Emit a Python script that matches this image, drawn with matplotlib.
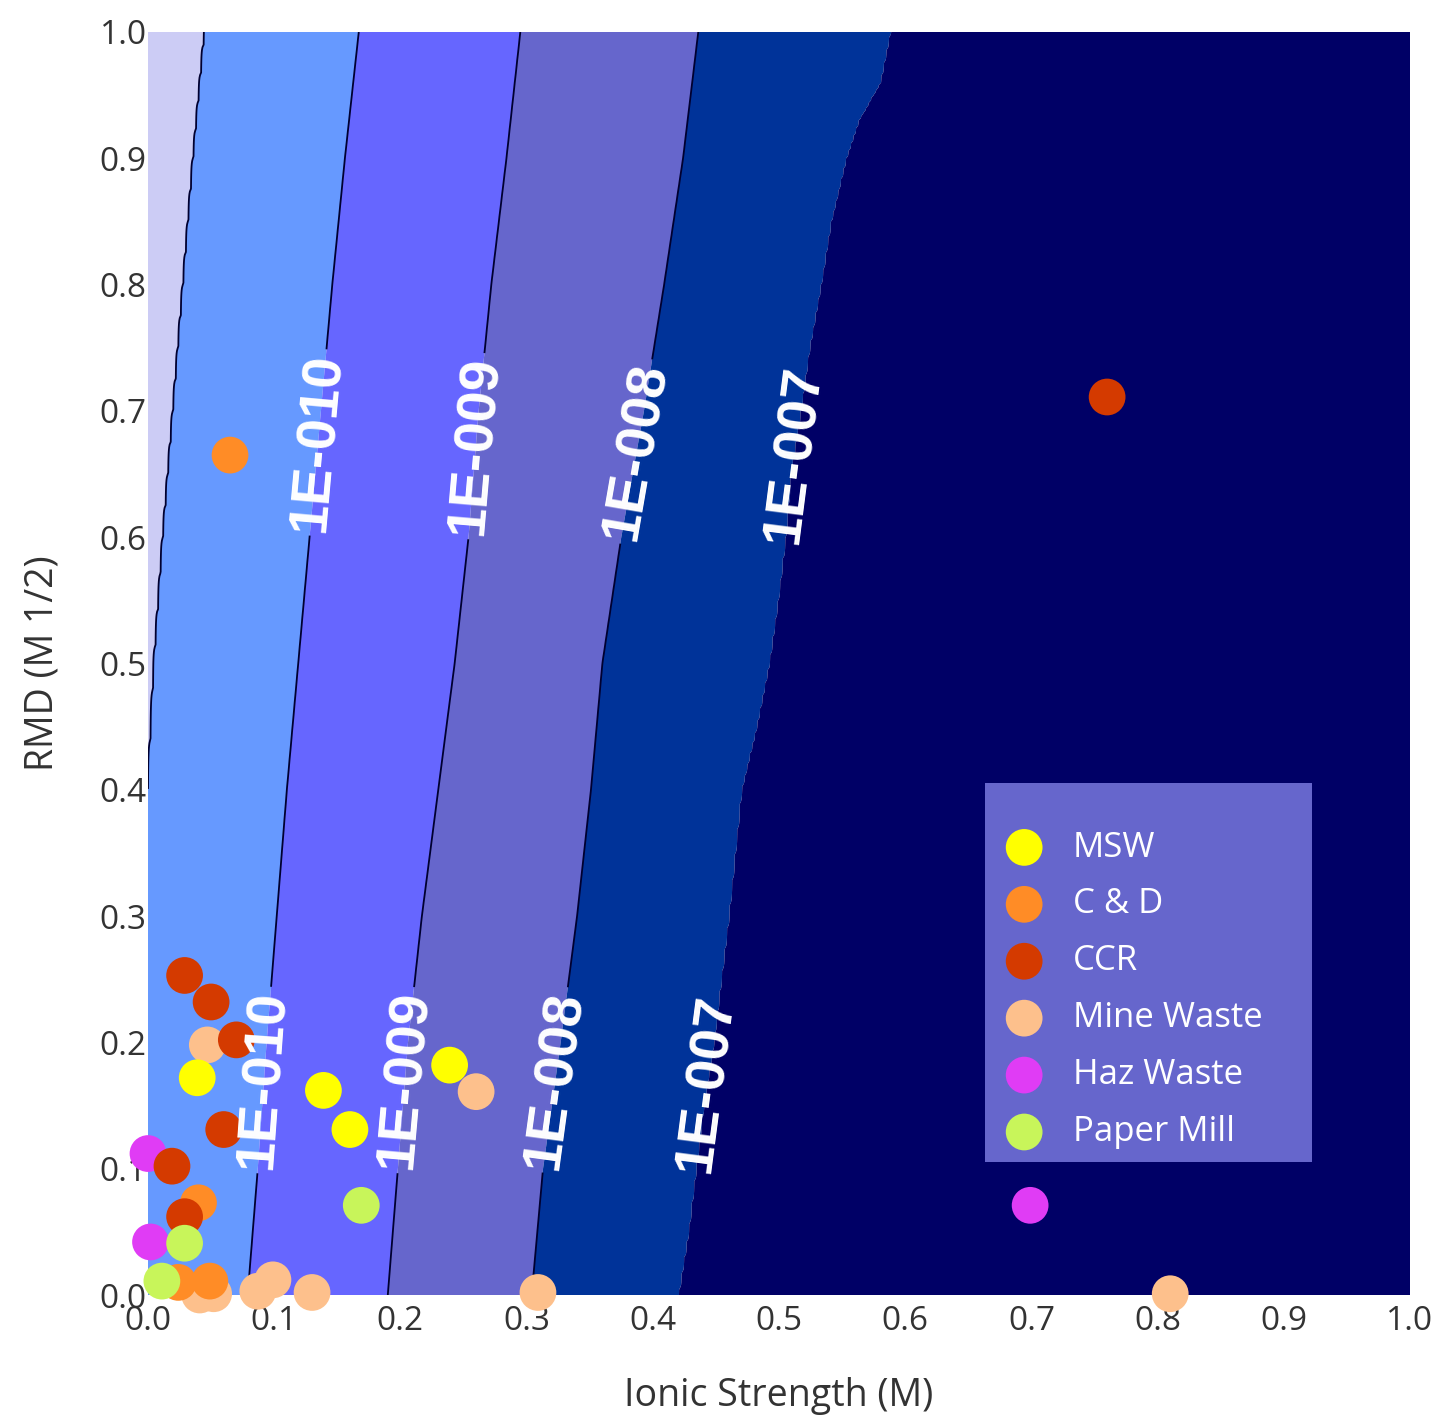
import numpy as np
import matplotlib
matplotlib.use("Agg")
import matplotlib.pyplot as plt
from matplotlib.patches import Rectangle
from matplotlib.font_manager import FontProperties

# ---------------- data ----------------
# contour boundaries (x position of each iso-line at given RMD values)
levels_log = [-11, -10, -9, -8, -7]
b11_y = [0.0, 0.1, 0.2, 0.3, 0.4, 0.5, 0.6, 0.7, 0.8, 0.9, 1.0]
b11_x = [-0.040, -0.030, -0.020, -0.010, 0.000, 0.005, 0.012, 0.020, 0.028, 0.036, 0.045]
b10_y = [0.0, 0.1, 0.2, 0.3, 0.4, 0.5, 0.6, 0.7, 0.8, 0.9, 1.0]
b10_x = [0.079, 0.087, 0.094, 0.102, 0.110, 0.119, 0.128, 0.137, 0.146, 0.156, 0.167]
b09_y = [0.0, 0.1, 0.2, 0.3, 0.4, 0.5, 0.6, 0.7, 0.8, 0.9, 1.0]
b09_x = [0.190, 0.198, 0.206, 0.217, 0.230, 0.243, 0.254, 0.262, 0.272, 0.284, 0.295]
b08_y = [0.0, 0.1, 0.2, 0.3, 0.4, 0.5, 0.6, 0.7, 0.8, 0.9, 1.0]
b08_x = [0.304, 0.313, 0.327, 0.340, 0.351, 0.360, 0.375, 0.393, 0.409, 0.424, 0.436]
b07_y = [0.0, 0.05, 0.1, 0.15, 0.2, 0.25, 0.3, 0.35, 0.4, 0.45, 0.5, 0.55,
         0.6, 0.65, 0.7, 0.75, 0.8, 0.85, 0.9, 0.93, 0.96, 1.0]
b07_x = [0.420, 0.428, 0.434, 0.440, 0.448, 0.454, 0.460, 0.465, 0.470, 0.482,
         0.492, 0.499, 0.505, 0.509, 0.517, 0.524, 0.533, 0.541, 0.553, 0.563,
         0.580, 0.588]

fill_colors = ["#ccccf5", "#6699ff", "#6666ff", "#6666cc", "#003399", "#000066"]

# scatter data (Ionic Strength, RMD)
msw_x = [0.039, 0.139, 0.160, 0.239]
msw_y = [0.172, 0.162, 0.131, 0.182]
cd_x = [0.065, 0.040, 0.024, 0.049]
cd_y = [0.665, 0.073, 0.010, 0.011]
ccr_x = [0.029, 0.050, 0.070, 0.060, 0.019, 0.029, 0.760]
ccr_y = [0.253, 0.232, 0.202, 0.131, 0.102, 0.062, 0.711]
mine_x = [0.047, 0.260, 0.041, 0.052, 0.087, 0.099, 0.130, 0.309, 0.810]
mine_y = [0.198, 0.161, 0.000, 0.001, 0.003, 0.012, 0.002, 0.002, 0.001]
haz_x = [0.000, 0.002, 0.699]
haz_y = [0.112, 0.042, 0.071]
paper_x = [0.029, 0.011, 0.169]
paper_y = [0.041, 0.011, 0.071]

series_names = ["MSW", "C & D", "CCR", "Mine Waste", "Haz Waste", "Paper Mill"]
series_colors = ["#ffff00", "#ff8c26", "#d43a00", "#fdc08c", "#e03cf5", "#c8f55a"]
series_z = [3.4, 3.2, 3.3, 3.0, 3.1, 3.5]

x_ticks = [0.0, 0.1, 0.2, 0.3, 0.4, 0.5, 0.6, 0.7, 0.8, 0.9, 1.0]
y_ticks = [0.0, 0.1, 0.2, 0.3, 0.4, 0.5, 0.6, 0.7, 0.8, 0.9, 1.0]

label_pos = [(0.135, 0.675), (0.095, 0.17), (0.261, 0.672), (0.206, 0.17),
             (0.386, 0.668), (0.325, 0.17), (0.513, 0.665), (0.441, 0.168)]

# ---------------- build the field from the boundaries ----------------
gx = np.linspace(0, 1, 500)
gy = np.linspace(0, 1, 500)
X, Y = np.meshgrid(gx, gy)
bounds = [(b11_y, b11_x), (b10_y, b10_x), (b09_y, b09_x), (b08_y, b08_x), (b07_y, b07_x)]
Z = np.zeros_like(X)
for i, yy in enumerate(gy):
    xs = [-1.0] + [np.interp(yy, by, bx) for by, bx in bounds] + [2.0]
    zs = [levels_log[0] - 1] + levels_log + [levels_log[-1] + 1]
    Z[i, :] = np.interp(gx, xs, zs)

# ---------------- plot ----------------
fig = plt.figure(figsize=(14.41, 14.16), dpi=100)
ax = fig.add_axes([148 / 1441, 1 - 1295 / 1416, 1262 / 1441, 1263 / 1416])

all_levels = [levels_log[0] - 1] + levels_log + [levels_log[-1] + 1]
ax.contourf(X, Y, Z, levels=all_levels, colors=fill_colors, antialiased=True)
ax.contour(X, Y, Z, levels=levels_log[:1], colors="#000030", linewidths=1.3,
           linestyles="solid")
cs = ax.contour(X, Y, Z, levels=levels_log[1:], colors="#000030",
                linewidths=[1.3, 1.3, 1.3, 0.0], linestyles="solid")

def fmt(v):
    return "1E-%03d" % abs(int(round(v)))

with plt.rc_context({"font.weight": "bold", "font.family": ["Liberation Sans", "DejaVu Sans"]}):
    texts = ax.clabel(cs, manual=label_pos, inline=True,
                      inline_spacing=4, fmt=fmt, fontsize=40, colors="white")

xs_all = [msw_x, cd_x, ccr_x, mine_x, haz_x, paper_x]
ys_all = [msw_y, cd_y, ccr_y, mine_y, haz_y, paper_y]
handles = []
for sx, sy, nm, c, z in zip(xs_all, ys_all, series_names, series_colors, series_z):
    h = ax.scatter(sx, sy, s=700, color=c, edgecolors="none", zorder=z,
                   clip_on=False, label=nm)
    handles.append(h)

ax.set_xlim(0, 1)
ax.set_ylim(0, 1)
for sp in ax.spines.values():
    sp.set_visible(False)

tick_font = FontProperties(family="Open Sans", size=24)
ax.set_xticks(x_ticks)
ax.set_yticks(y_ticks)
ax.set_xticklabels(["%.1f" % t for t in x_ticks], fontproperties=tick_font, color="#333333")
ax.set_yticklabels(["%.1f" % t for t in y_ticks], fontproperties=tick_font, color="#333333")
ax.tick_params(axis="both", length=0)
ax.tick_params(axis="x", pad=7)
ax.tick_params(axis="y", pad=1)

lab_font = FontProperties(family="Open Sans", size=27)
ax.set_xlabel("Ionic Strength (M)", fontproperties=lab_font, color="#333333", labelpad=28)
ax.set_ylabel("RMD (M 1/2)", fontproperties=lab_font, color="#333333", labelpad=27)

# legend box
ax.add_patch(Rectangle((0.663, 0.105), 0.259, 0.300, transform=ax.transAxes,
                       facecolor="#6666cc", edgecolor="none", zorder=4.5, clip_on=False))
leg = ax.legend(handles=handles, labels=series_names, loc="upper left",
                bbox_to_anchor=(0.664, 0.3815), frameon=False,
                prop=FontProperties(family="Open Sans", size=25), labelcolor="white",
                handletextpad=0.8, labelspacing=0.66, borderpad=0.0,
                handlelength=1.2, scatterpoints=1)
leg.set_zorder(5)

fig.savefig("out.png", dpi=100, facecolor="white")
